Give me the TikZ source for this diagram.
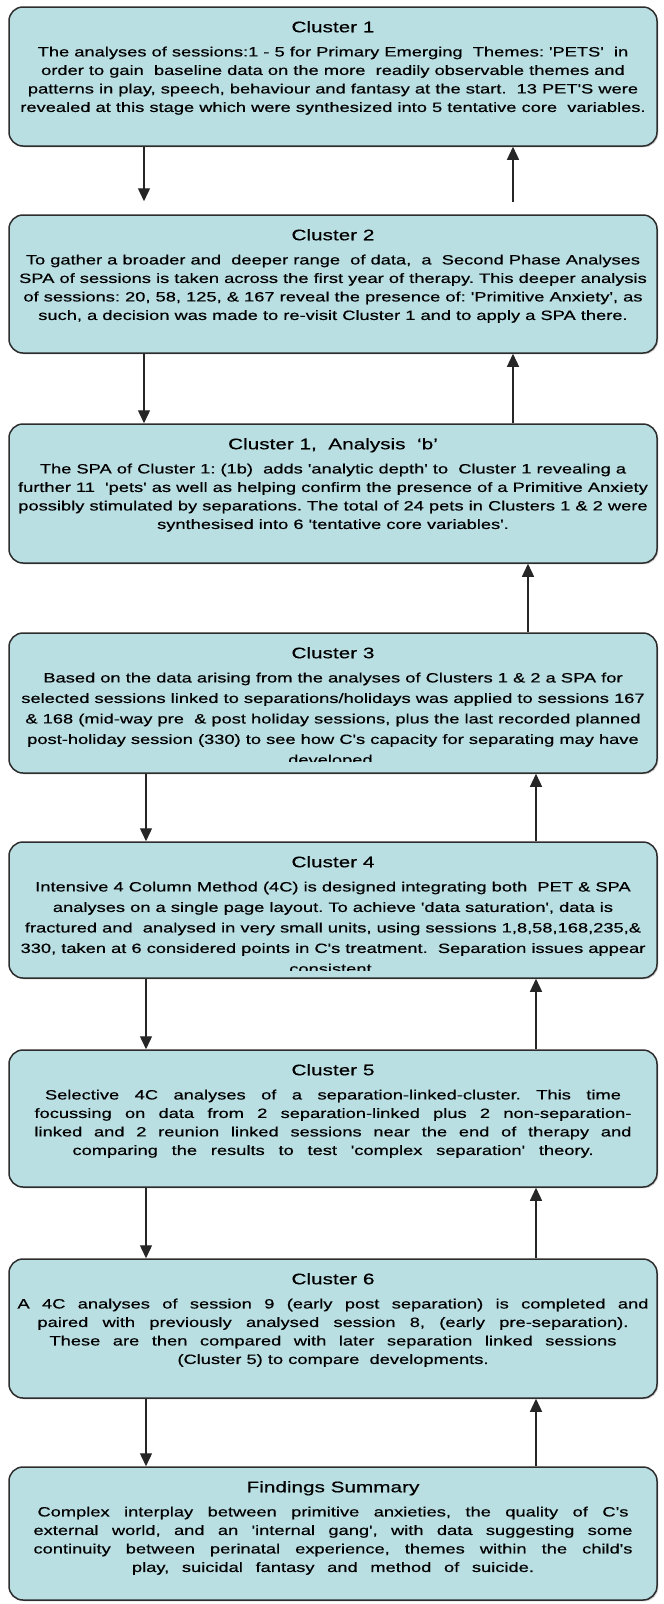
\documentclass[tikz,border=0pt]{standalone}
\usepackage{fontspec}
\setmainfont{Liberation Sans}[FakeStretch=1.355,FakeBold=0.5,Ligatures=TeXOff]
\usetikzlibrary{arrows.meta,shadows}
\definecolor{boxfill}{RGB}{186,223,227}
\definecolor{boxline}{RGB}{45,45,45}
\newcommand\bodyfont{\fontsize{13.5pt}{18.5pt}\selectfont}
\newcommand\bodyfontb{\fontsize{13.5pt}{20.5pt}\selectfont}
\newcommand\titlefont{\fontsize{15.3pt}{18pt}\selectfont}
\newcommand\jline[2]{\makebox[#1][s]{#2}}
\frenchspacing
\begin{document}
\begin{tikzpicture}[x=1pt,y=-1pt,
  box/.style={draw=boxline, line width=1.5pt, fill=boxfill, rounded corners=14pt,
    minimum width=648pt, inner sep=0pt,
    drop shadow={shadow xshift=1.3pt, shadow yshift=-1.3pt, fill=black!35}},
  ttl/.style={font=\titlefont, anchor=base, inner sep=0pt},
  body/.style={font=\bodyfont, align=center, anchor=north, inner sep=0pt},
  arr/.style={draw=black!85, line width=1.3pt, -{Triangle[width=12pt,length=13pt]}}]
\fill[white] (0,0) rectangle (664,1604);
\useasboundingbox (0,0) rectangle (664,1604);

\coordinate (xL) at (144,0);
\coordinate (xM) at (146,0);
\coordinate (xR1) at (513,0);
\coordinate (xR2) at (528,0);
\coordinate (xR3) at (536,0);

% boxes
\node[box, minimum height=139pt] (b1) at (333,76.5) {};
\node[box, minimum height=138pt] (b2) at (333,284) {};
\node[box, minimum height=139pt] (b3) at (333,493.5) {};
\node[box, minimum height=140pt] (b4) at (333,703) {};
\node[box, minimum height=136pt] (b5) at (333,910) {};
\node[box, minimum height=137pt] (b6) at (333,1118.5) {};
\node[box, minimum height=139pt] (b7) at (333,1328.5) {};
\node[box, minimum height=133pt] (b8) at (333,1533.5) {};

% Cluster 1
\node[ttl] (t1) at ([yshift=-26pt]b1.north) {Cluster 1};
\node[body] (d1) at ([yshift=-40pt]b1.north) {\rule{0pt}{10pt}The analyses of sessions:1 - 5 for Primary Emerging\ \ Themes: 'PETS'\ \ in\\
order to gain\ \ baseline data on the more\ \ readily observable themes and\\
patterns in play, speech, behaviour and fantasy at the start.\ \ 13 PET'S were\\
revealed at this stage which were synthesized into 5 tentative core\ \ variables.};

% Cluster 2
\node[ttl] (t2) at ([yshift=-26pt]b2.north) {Cluster 2};
\node[body] (d2) at ([yshift=-40pt]b2.north) {\rule{0pt}{10pt}To gather a broader and\ \ deeper range\ \ of data,\ \ a\ \ Second Phase Analyses\\
SPA of sessions is taken across the first year of therapy. This deeper analysis\\
of sessions: 20, 58, 125, \& 167 reveal the presence of: 'Primitive Anxiety', as\\
such, a decision was made to re-visit Cluster 1 and to apply a SPA there.};

% Cluster 1 b
\node[ttl] (t3) at ([yshift=-26pt]b3.north) {Cluster 1,\ \ Analysis\ \ ‘b’};
\node[body] (d3) at ([yshift=-40pt]b3.north) {\rule{0pt}{10pt}The SPA of Cluster 1: (1b)\ \ adds 'analytic depth' to\ \ Cluster 1 revealing a\\
further 11\ \ 'pets' as well as helping confirm the presence of a Primitive Anxiety\\
possibly stimulated by separations. The total of 24 pets in Clusters 1 \& 2 were\\
synthesised into 6 'tentative core variables'.};

% Cluster 3
\node[ttl] (t4) at ([yshift=-26pt]b4.north) {Cluster 3};
\begin{scope}
\clip ([yshift=12.5pt]b4.south west) rectangle (b4.north east);
\node[body, font=\bodyfontb] (d4) at ([yshift=-40pt]b4.north) {\rule{0pt}{10pt}Based on the data arising from the analyses of Clusters 1 \& 2 a SPA for\\
selected sessions linked to separations/holidays was applied to sessions 167\\
\& 168 (mid-way pre\ \ \& post holiday sessions, plus the last recorded planned\\
post-holiday session (330) to see how C's capacity for separating may have\\
developed.};
\end{scope}

% Cluster 4
\node[ttl] (t5) at ([yshift=-26pt]b5.north) {Cluster 4};
\begin{scope}
\clip ([yshift=8.5pt]b5.south west) rectangle (b5.north east);
\node[body, font=\bodyfontb] (d5) at ([yshift=-40pt]b5.north) {\rule{0pt}{10pt}Intensive 4 Column Method (4C) is designed integrating both\ \ PET \& SPA\\
analyses on a single page layout. To achieve 'data saturation', data is\\
fractured and\ \ analysed in very small units, using sessions 1,8,58,168,235,\&\\
330, taken at 6 considered points in C's treatment.\ \ Separation issues appear\\
consistent.};
\end{scope}

% Cluster 5
\node[ttl] (t6) at ([yshift=-26pt]b6.north) {Cluster 5};
\node[body] (d6) at ([yshift=-40pt]b6.north) {\rule{0pt}{10pt}\jline{576pt}{Selective 4C analyses of a separation-linked-cluster. This time}\\
\jline{597pt}{focussing on data from 2 separation-linked plus 2 non-separation-}\\
\jline{597pt}{linked and 2 reunion linked sessions near the end of therapy and}\\
\jline{521pt}{comparing the results to test 'complex separation' theory.}};

% Cluster 6
\node[ttl] (t7) at ([yshift=-26pt]b7.north) {Cluster 6};
\node[body] (d7) at ([yshift=-40pt]b7.north) {\rule{0pt}{10pt}\jline{631pt}{A 4C analyses of session 9 (early post separation) is completed and}\\
\jline{591pt}{paired with previously analysed session 8, (early pre-separation).}\\
\jline{567pt}{These are then compared with later separation linked sessions}\\
(Cluster 5) to compare\ \ developments.};

% Findings
\node[ttl] (t8) at ([yshift=-26pt]b8.north) {Findings Summary};
\node[body] (d8) at ([yshift=-40pt]b8.north) {\rule{0pt}{10pt}\jline{591pt}{Complex interplay between primitive anxieties, the quality of C’s}\\
\jline{599pt}{external world, and an 'internal gang', with data suggesting some}\\
\jline{599pt}{continuity between perinatal experience, themes within the child's}\\
\jline{402pt}{play, suicidal fantasy and method of suicide.}};

% connectors
\draw[arr, shorten >=13pt] (b1.south -| xL) -- (b2.north -| xL);
\draw[arr, shorten <=12pt] (b2.north -| xR1) -- (b1.south -| xR1);
\draw[arr] (b2.south -| xL) -- (b3.north -| xL);
\draw[arr] (b3.north -| xR1) -- (b2.south -| xR1);
\draw[arr] (b4.north -| xR2) -- (b3.south -| xR2);
\draw[arr] (b4.south -| xM) -- (b5.north -| xM);
\draw[arr] (b5.north -| xR3) -- (b4.south -| xR3);
\draw[arr] (b5.south -| xM) -- (b6.north -| xM);
\draw[arr] (b6.north -| xR3) -- (b5.south -| xR3);
\draw[arr] (b6.south -| xM) -- (b7.north -| xM);
\draw[arr] (b7.north -| xR3) -- (b6.south -| xR3);
\draw[arr] (b7.south -| xM) -- (b8.north -| xM);
\draw[arr] (b8.north -| xR3) -- (b7.south -| xR3);
\end{tikzpicture}
\end{document}
